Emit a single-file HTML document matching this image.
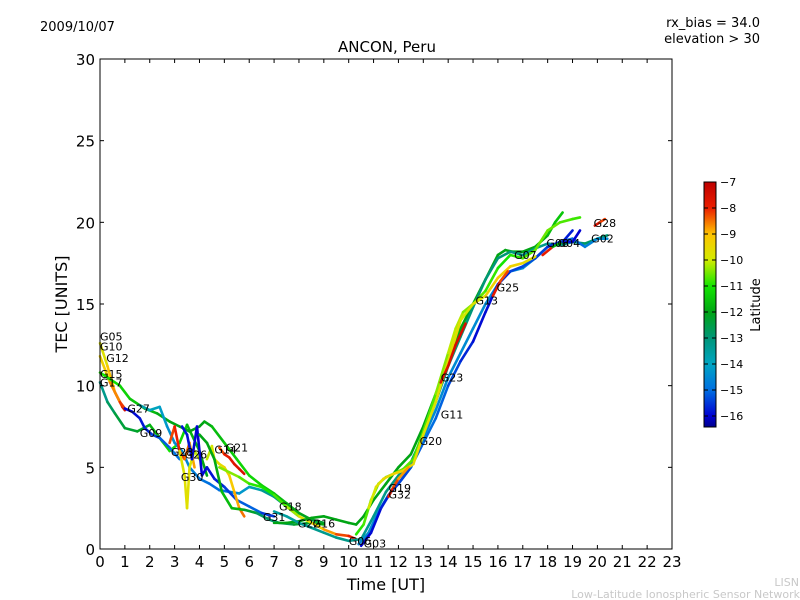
<!DOCTYPE html>
<html><head><meta charset="utf-8">
<style>
body{margin:0;background:#fff;}
svg{display:block;font-family:"DejaVu Sans","Liberation Sans",sans-serif;}
</style></head>
<body>
<svg id="chart" width="800" height="600" viewBox="0 0 800 600" xmlns="http://www.w3.org/2000/svg">
<rect width="800" height="600" fill="#fff"/>
<defs>
<linearGradient id="jet" x1="0" y1="1" x2="0" y2="0"></linearGradient>
</defs>
<text x="40" y="31" font-size="13">2009/10/07</text>
<text x="760" y="27" font-size="13" text-anchor="end">rx_bias = 34.0</text>
<text x="760" y="43" font-size="13" text-anchor="end">elevation &gt; 30</text>
<text x="387" y="52" font-size="15" text-anchor="middle">ANCON, Peru</text>
<text x="67" y="304" font-size="16" text-anchor="middle" transform="rotate(-90 67 304)">TEC [UNITS]</text>
<text x="386" y="590" font-size="16" text-anchor="middle">Time [UT]</text>
<text x="799" y="586" font-size="11" fill="#c8c8c8" text-anchor="end">LISN</text>
<text x="800" y="598" font-size="11" fill="#c8c8c8" text-anchor="end">Low-Latitude Ionospheric Sensor Network</text>
<g id="plot"></g>
<g id="axes"></g>
<g id="cbar">
<rect x="704" y="182" width="12" height="245" fill="url(#jet)" stroke="#000" stroke-width="1"/>
<text x="760" y="305" font-size="13" text-anchor="middle" transform="rotate(-90 760 305)">Latitude</text>
</g>
</svg>
<script>
const NS="http://www.w3.org/2000/svg";
const xTicks=[0,1,2,3,4,5,6,7,8,9,10,11,12,13,14,15,16,17,18,19,20,21,22,23];
const yTicks=[0,5,10,15,20,25,30];
const cbTicks=[-7,-8,-9,-10,-11,-12,-13,-14,-15,-16];
const latMin=-16.42, latMax=-7;

const g05_t=[0,0.3,0.6,0.9,1.0], g05_v=[12.6,11.2,9.6,8.7,8.5], g05_lat=[-10,-9.5,-8.5,-7.8,-7.3];
const g12_t=[0,0.4,0.8,1.0], g12_v=[11.8,10.2,9.0,8.6], g12_lat=[-9.6,-9,-8.3,-8];
const g17_t=[0,0.3,0.6,1.0,1.5,2.0,2.5,2.8,3.2,3.5,4.0,4.3], g17_v=[10.2,9.0,8.3,7.4,7.2,7.6,6.6,6.0,6.5,7.6,6.0,4.5], g17_lat=[-13.5,-13,-12.5,-12.3,-12.3,-12,-11.5,-11,-11,-11.5,-12,-12];
const g15_t=[0,0.3,0.8,1.2,1.8,2.3,2.8,3.2,3.6,4.0,4.2,4.5,5.0,5.5,6.0,6.5,7.0,7.5,8.0,8.5,9.0], g15_v=[10.8,10.5,10.0,9.2,8.6,8.3,7.8,7.5,7.2,7.5,7.8,7.5,6.5,5.5,4.5,3.9,3.4,2.8,2.2,1.8,1.6], g15_lat=[-11,-11,-11.2,-11.4,-11.6,-11.8,-12,-12,-12,-12,-12,-11.8,-11.5,-11.3,-11.2,-11.3,-11.5,-11.8,-12,-12.2,-12.4];
const g27_t=[1.0,1.3,1.6,1.8,2.1,2.4,2.8,3.2], g27_v=[8.6,8.4,8.0,7.4,7.0,6.8,6.2,5.5], g27_lat=[-16,-16,-15.8,-15.8,-15.5,-15.3,-15,-14.8];
const g09_t=[1.6,2.0,2.4,2.7,3.0,3.3,3.6,4.0,4.4,4.8,5.2,5.6,6.0,6.5,7.0,7.5,8.0], g09_v=[8.8,8.5,8.7,7.5,6.5,6.0,5.0,4.3,4.0,3.6,3.5,3.4,3.8,3.6,3.2,2.6,2.0], g09_lat=[-13.5,-13.8,-14,-14.3,-14.5,-14.5,-14.6,-14.8,-15,-15,-14.8,-14.5,-14,-13.5,-13.2,-13,-13];
const g28_t=[2.8,3.0,3.2,3.4,3.6,3.8], g28_v=[6.5,7.5,6.0,5.5,6.5,5.0], g28_lat=[-8.5,-8,-8,-8.3,-8.6,-9];
const g30_t=[3.2,3.4,3.5,3.6,3.8,4.0], g30_v=[6.0,4.5,2.5,5.0,6.0,5.5], g30_lat=[-9.8,-9.8,-9.6,-9.8,-10,-10.2];
const g26_t=[3.3,3.5,3.7,3.9,4.1,4.3,4.6,5.0,5.5,6.0,6.5,7.0], g26_v=[7.5,7.0,5.5,7.5,4.5,5.0,4.3,3.8,3.0,2.6,2.2,2.0], g26_lat=[-15.8,-15.8,-15.9,-16,-16,-15.9,-15.8,-15.6,-15.3,-15,-15.2,-15.8];
const g21_t=[4.8,5.0,5.2,5.4,5.6,5.8], g21_v=[6.2,5.8,5.6,5.2,4.9,4.6], g21_lat=[-8.5,-8,-7.8,-7.8,-7.6,-7.5];
const g14_t=[4.3,4.5,4.6,4.8,5.0,5.2,5.4,5.6,5.8], g14_v=[5.5,6.3,5.5,5.2,5.0,4.5,3.5,2.5,2.0], g14_lat=[-10.2,-10,-9.8,-9.6,-9.5,-9.3,-9,-8.7,-8.3];
const g16_t=[4.0,4.3,4.6,4.9,5.3,5.8,6.3,6.8,7.2,7.8,8.5,9.0], g16_v=[7.0,6.5,5.5,3.5,2.5,2.4,2.2,1.8,1.6,1.5,1.6,1.5], g16_lat=[-12,-12,-12,-11.8,-11.5,-12,-12.5,-13,-12.8,-12.5,-12,-12];
const g18_t=[4.8,5.2,5.6,6.0,6.5,7.0,7.5,8.0,8.5,9.0,9.5,10.0,10.3], g18_v=[5.0,4.7,4.4,4.0,3.8,3.3,2.6,2.0,1.6,1.2,0.9,0.8,0.6], g18_lat=[-10.5,-10.3,-10.5,-10.8,-11,-11,-10.5,-10,-9.5,-9,-8.5,-8,-7.8];
const g22_t=[7,7.5,8,8.5,9,9.5,10,10.3,10.6,11,11.5,12,12.5,13,13.5,14,14.5,15,15.5,16,16.3,16.6,17,17.5,18,18.3,18.6], g22_v=[1.6,1.6,1.7,1.9,2.0,1.8,1.6,1.5,2.0,3.0,4.0,5.0,5.8,7.5,9.5,11.5,13.5,15.0,16.5,18.0,18.3,18.2,18.2,18.5,19.2,20.0,20.6], g22_lat=[-12,-12,-12,-12,-12,-12,-12,-12,-12,-12,-12,-12,-12,-12,-12,-12,-12,-12,-12,-12,-12,-12,-12,-12,-11.8,-11.5,-11.5];
const g19_t=[10.3,10.6,10.9,11.2,11.5,11.8,12.2,12.6,13,13.5,14,14.3,14.6,15,15.5,16,16.5,17,17.5,18,18.5,19,19.3], g19_v=[0.9,1.5,3.0,4.0,4.4,4.6,4.9,5.5,7.2,9.5,12.0,13.5,14.5,15.0,15.8,17.2,18.0,17.8,18.3,19.5,20.0,20.2,20.3], g19_lat=[-11,-10.8,-10.6,-10.5,-10.5,-10.5,-10.6,-10.7,-10.8,-10.6,-10.2,-10,-10.3,-10.5,-10.7,-11,-11,-10.8,-10.6,-10.5,-10.6,-10.8,-10.8];
const g11_t=[10.4,10.8,11.2,11.6,12,12.5,13,13.5,14,14.5,15,15.5,16,16.5,17,17.5,18,18.5,19,19.5,20,20.4], g11_v=[0.3,1.0,2.3,3.3,4.0,5.0,6.8,8.5,10.5,12.0,13.5,15.0,16.2,17.0,17.2,17.8,18.5,18.8,19.0,18.5,19.0,19.0], g11_lat=[-14.5,-14.5,-14.5,-14.5,-14.5,-14.5,-14.5,-14.5,-14.5,-14.5,-14.5,-14.5,-14.5,-14.5,-14.5,-14.6,-14.8,-15,-15.2,-14.8,-14.5,-14.5];
const g03_t=[10.5,10.9,11.3,11.7,12,12.5,13,13.5,14,14.5,15,15.5,16,16.5,17,17.5,18,18.5,19,19.3], g03_v=[0.2,1.0,2.5,3.5,4.0,5.0,6.5,8.0,10.0,11.5,12.7,14.5,16.2,17.0,17.3,17.8,18.5,18.8,18.8,19.5], g03_lat=[-16,-16,-15.8,-15.6,-15.5,-15.3,-15,-15,-15.2,-15.5,-15.8,-16,-15.8,-15.5,-15.3,-15.3,-15.5,-15.8,-16,-16];
const g06_t=[7,7.5,8,8.5,9,9.5,10,10.5,11,11.5,12,12.5,13,13.5,14,14.5,15,15.5,16,16.5,17,17.5,18,18.5,19,19.5,20,20.4], g06_v=[2.3,2.0,1.6,1.3,1.0,0.7,0.5,0.6,2.0,3.5,4.5,5.3,7.0,9.0,11.2,13.0,14.8,16.5,17.8,18.2,18.0,18.4,18.7,18.6,18.8,18.7,19.0,19.2], g06_lat=[-13.5,-13.5,-13.5,-13.3,-13.3,-13.2,-13.2,-13.3,-13.3,-13.2,-13,-13,-13,-13,-13,-13,-13,-13,-13,-13,-13.2,-13.3,-13.3,-13.2,-13,-12.8,-12.8,-13];
const g32_t=[10.8,11.1,11.4,11.8,12.2,12.6,13,13.5,14,14.5,15,15.5,16,16.5,17,17.5], g32_v=[2.5,3.8,4.3,4.6,4.8,5.2,7.0,9.0,11.5,14.0,15.0,15.5,16.6,17.3,17.5,17.9], g32_lat=[-10,-9.8,-9.6,-9.4,-9.3,-9.5,-9.7,-9.8,-9.5,-9.8,-10,-9.5,-9.2,-9.3,-9.5,-9.7];
const g23_t=[13.7,14,14.3,14.7], g23_v=[10.2,11.2,12.5,13.8], g23_lat=[-7.8,-7.6,-7.5,-7.5];
const g25_t=[15.8,16.1,16.4], g25_v=[15.5,16.4,17.0], g25_lat=[-7.8,-8,-8.5];
const g04_t=[17.8,18.2,18.6,19.0], g04_v=[18.0,18.5,18.8,19.5], g04_lat=[-7.8,-8,-15.5,-16];
const g28b_t=[19.9,20.1,20.3], g28b_v=[19.8,20.0,20.2], g28b_lat=[-7.6,-7.6,-8.8];
const g20_t=[11.6,11.8,12,12.4], g20_v=[3.2,3.8,4.3,5.0], g20_lat=[-7.8,-8,-8.5,-9];

const trackT=[g05_t,g12_t,g17_t,g15_t,g27_t,g09_t,g28_t,g30_t,g26_t,g21_t,g14_t,g16_t,g18_t,g22_t,g06_t,g11_t,g03_t,g19_t,g32_t,g23_t,g25_t,g04_t,g28b_t,g20_t];
const trackV=[g05_v,g12_v,g17_v,g15_v,g27_v,g09_v,g28_v,g30_v,g26_v,g21_v,g14_v,g16_v,g18_v,g22_v,g06_v,g11_v,g03_v,g19_v,g32_v,g23_v,g25_v,g04_v,g28b_v,g20_v];
const trackLat=[g05_lat,g12_lat,g17_lat,g15_lat,g27_lat,g09_lat,g28_lat,g30_lat,g26_lat,g21_lat,g14_lat,g16_lat,g18_lat,g22_lat,g06_lat,g11_lat,g03_lat,g19_lat,g32_lat,g23_lat,g25_lat,g04_lat,g28b_lat,g20_lat];
const trackNames=["g05","g12","g17","g15","g27","g09","g28","g30","g26","g21","g14","g16","g18","g22","g06","g11","g03","g19","g32","g23","g25","g04","g28b","g20"];

const labelText=["G05","G10","G12","G15","G17","G27","G09","G28","G26","G14","G21","G30","G31","G18","G22","G16","G06","G03","G19","G32","G20","G11","G23","G13","G25","G07","G08","G04","G28","G02"];
const labelT=[0,0,0.25,0,0,1.1,1.6,2.85,3.4,4.6,5.05,3.25,6.55,7.2,7.95,8.55,10.0,10.6,11.6,11.6,12.85,13.7,13.7,15.1,15.95,16.65,17.95,18.4,19.85,19.75];
const labelV=[13.0,12.4,11.7,10.7,10.2,8.6,7.1,5.95,5.8,6.1,6.2,4.4,1.95,2.6,1.55,1.55,0.5,0.35,3.75,3.35,6.6,8.25,10.5,15.2,16.0,18.0,18.75,18.75,19.95,19.0];

// colormap anchors (latitude -> rgb)
const cmapLat=[-16.42,-16,-15,-14,-13,-12,-11,-10,-9,-8,-7];
const cmapRGB=[[0,0,140],[0,0,210],[0,110,225],[0,165,195],[0,150,120],[0,165,20],[20,230,0],[210,235,0],[255,195,0],[235,30,0],[190,0,0]];

const X0=100,X1=672,Y0=549,Y1=59;
const xs=t=>X0+t*(X1-X0)/23;
const ys=v=>Y0-v*(Y0-Y1)/30;
const cy=l=>182+(latMax-l)*26;

function cmap(l){
  l=Math.max(cmapLat[0],Math.min(latMax,l));
  for(let i=0;i<cmapLat.length-1;i++){
    if(l<=cmapLat[i+1]){
      const f=(l-cmapLat[i])/(cmapLat[i+1]-cmapLat[i]);
      const c=cmapRGB[i].map((a,j)=>Math.round(a+(cmapRGB[i+1][j]-a)*f));
      return `rgb(${c[0]},${c[1]},${c[2]})`;
    }
  }
  return 'rgb(190,0,0)';
}
function el(tag,attrs,parent){const e=document.createElementNS(NS,tag);for(const k in attrs)e.setAttribute(k,attrs[k]);parent.appendChild(e);return e;}

const grad=document.getElementById('jet');
cmapLat.forEach((l,i)=>{
  el('stop',{offset:(l-latMin)/(latMax-latMin),'stop-color':cmap(l)},grad);
});

const plot=document.getElementById('plot');
for(let k=0;k<trackT.length;k++){
  const g=el('g',{},plot);
  
  
  const T=trackT[k],V=trackV[k],L=trackLat[k];
  for(let i=0;i<T.length-1;i++){
    const s=el('line',{x1:xs(T[i]),y1:ys(V[i]),x2:xs(T[i+1]),y2:ys(V[i+1]),stroke:cmap((L[i]+L[i+1])/2),'stroke-width':2.6,'stroke-linecap':'round'},g);
    
    
  }
}
for(let i=0;i<labelText.length;i++){
  const t=el('text',{x:xs(labelT[i]),y:ys(labelV[i])+4,'font-size':11},plot);
  
  
  t.textContent=labelText[i];
}

const axes=document.getElementById('axes');
const frame=el('rect',{x:X0,y:Y1,width:X1-X0,height:Y0-Y1,fill:'none',stroke:'#000','stroke-width':1},axes);


xTicks.forEach(t=>{
  const x=xs(t);
  el('line',{x1:x,y1:Y0,x2:x,y2:Y0-4,stroke:'#000'},axes);
  el('line',{x1:x,y1:Y1,x2:x,y2:Y1+4,stroke:'#000'},axes);
  const tx=el('text',{x:x,y:Y0+18,'font-size':15,'text-anchor':'middle'},axes);
  
  
  tx.textContent=t;
});
yTicks.forEach(v=>{
  const y=ys(v);
  el('line',{x1:X0,y1:y,x2:X0+4,y2:y,stroke:'#000'},axes);
  el('line',{x1:X1,y1:y,x2:X1-4,y2:y,stroke:'#000'},axes);
  const tx=el('text',{x:X0-5,y:y+6,'font-size':15,'text-anchor':'end'},axes);
  
  
  tx.textContent=v;
});
const cb=document.getElementById('cbar');
cbTicks.forEach(l=>{
  const y=cy(l);
  el('line',{x1:704,y1:y,x2:708,y2:y,stroke:'#000'},cb);
  el('line',{x1:716,y1:y,x2:712,y2:y,stroke:'#000'},cb);
  const tx=el('text',{x:720,y:y+4,'font-size':11},cb);
  
  
  tx.textContent='\u2212'+Math.abs(l);
});
</script>
</body></html>
